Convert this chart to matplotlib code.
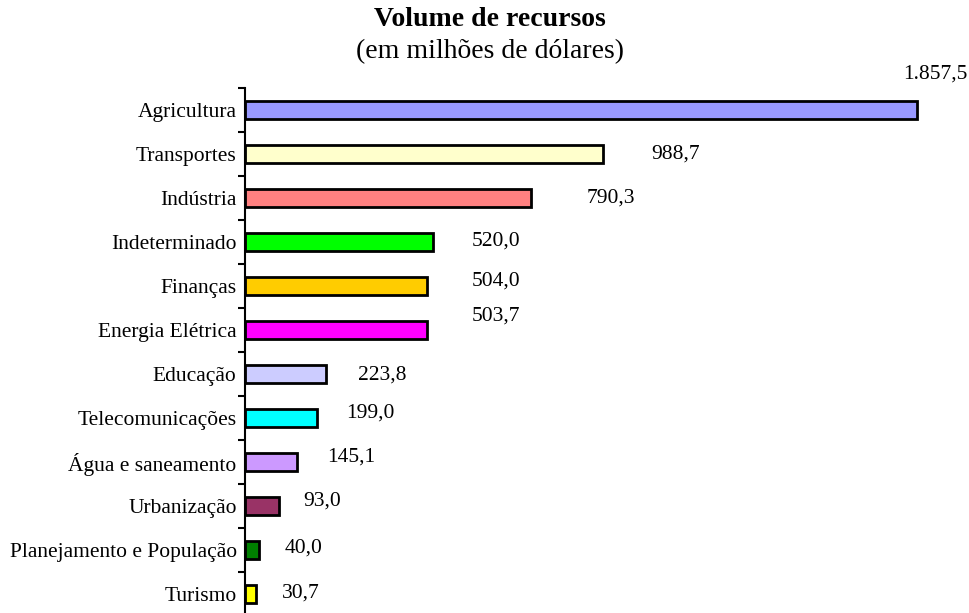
import matplotlib
matplotlib.use("Agg")
import matplotlib.pyplot as plt
import numpy as np

categories = [
    "Agricultura", "Transportes", "Indústria", "Indeterminado", "Finanças",
    "Energia Elétrica", "Educação", "Telecomunicações", "Água e saneamento",
    "Urbanização", "Planejamento e População", "Turismo",
]
values = [1857.5, 988.7, 790.3, 520.0, 504.0, 503.7, 223.8, 199.0, 145.1, 93.0, 40.0, 30.7]
colors = [
    "#9999FF", "#FFFFCC", "#FF8080", "#00FF00", "#FFCC00", "#FF00FF",
    "#CCCCFF", "#00FFFF", "#CC99FF", "#993366", "#008000", "#FFFF00",
]
# label offsets from bar end (pixels), as placed in the original
label_dx = [18, 73, 80, 63, 69, 69, 56, 53, 54, 43, 44, 45]
label_dy = [36, 0, 0, 1, 5, 14, -1, 5, 5, 5, 2, 1]


def br_format(v):
    s = f"{v:,.1f}"
    return s.replace(",", "X").replace(".", ",").replace("X", ".")


plt.rcParams["font.family"] = ["Liberation Serif", "DejaVu Serif"]

W, H = 970, 613
fig = plt.figure(figsize=(W / 100, H / 100), dpi=100)
x0, x1 = 245, 968.6
y_top, y_bot = 88, 616
ax = fig.add_axes([x0 / W, 1 - y_bot / H, (x1 - x0) / W, (y_bot - y_top) / H])

y = np.arange(len(categories))
ax.barh(y, values, height=0.41, color=colors, edgecolor="black", linewidth=2)
ax.set_xlim(0, 2000)
ax.set_ylim(len(categories) - 0.5, -0.5)

for i, v in enumerate(values):
    ax.annotate(br_format(v), (v, i), xytext=(label_dx[i], label_dy[i]),
                textcoords="offset pixels", ha="center", va="center",
                fontsize=15.5, annotation_clip=False)

ax.set_yticks(y)
ax.set_yticklabels(categories, fontsize=15.5)
ax.tick_params(axis="y", which="major", length=0, pad=6)
ax.set_yticks(np.arange(-0.5, len(categories), 1), minor=True)
ax.tick_params(axis="y", which="minor", length=5, width=1.5, direction="out")
ax.set_xticks([])
for side in ["top", "right", "bottom"]:
    ax.spines[side].set_visible(False)
ax.spines["left"].set_linewidth(1.5)

fig.text(490 / W, 1 - 20 / H, "Volume de recursos", ha="center", va="center",
         fontsize=20, fontweight="bold")
fig.text(490 / W, 1 - 52 / H, "(em milhões de dólares)", ha="center", va="center",
         fontsize=20)

fig.savefig("out.png", dpi=100)
